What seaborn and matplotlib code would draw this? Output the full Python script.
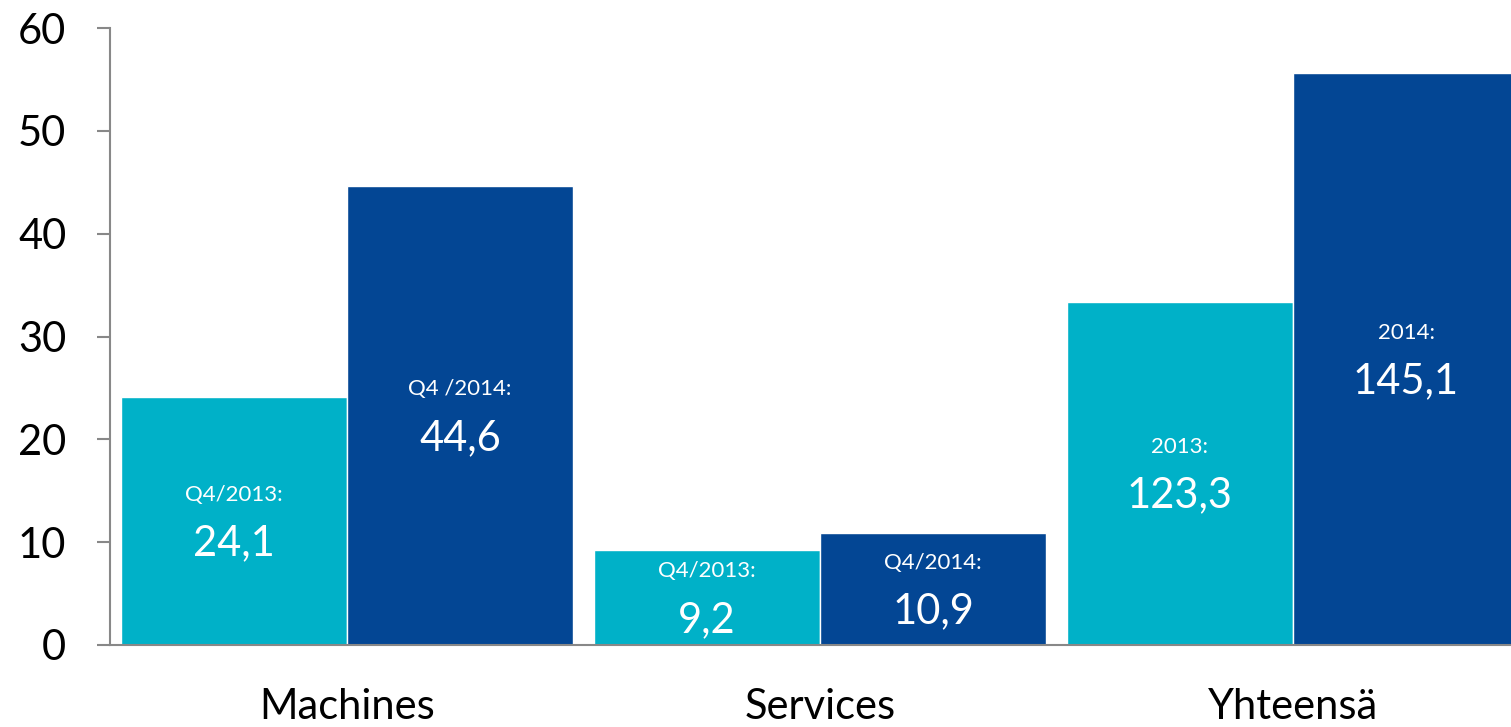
import matplotlib
matplotlib.use("Agg")
import matplotlib.pyplot as plt
import pandas as pd
import seaborn as sns

categories = ["Machines", "Services", "Yhteensä"]
series_names = ["2013", "2014"]
values_2013 = [24.1, 9.2, 33.4]
values_2014 = [44.6, 10.9, 55.6]
labels_2013 = ["Q4/2013:", "Q4/2013:", "2013:"]
labels_2014 = ["Q4 /2014:", "Q4/2014:", "2014:"]
texts_2013 = ["24,1", "9,2", "123,3"]
texts_2014 = ["44,6", "10,9", "145,1"]
colors = ["#00B1C8", "#034694"]

df = pd.DataFrame({
    "category": categories * 2,
    "series": [series_names[0]] * 3 + [series_names[1]] * 3,
    "value": values_2013 + values_2014,
})

sns.set_style("white")
plt.rcParams["font.family"] = ["Lato", "DejaVu Sans"]

fig = plt.figure(figsize=(15.11, 7.27), dpi=100)
ax = fig.add_axes([110 / 1511, 82 / 727, 1 - 110 / 1511, (645 - 28) / 727])

sns.barplot(data=df, x="category", y="value", hue="series", hue_order=series_names,
            palette=colors, width=0.956, saturation=1, legend=False, ax=ax)

top_labels = [labels_2013, labels_2014]
val_labels = [texts_2013, texts_2014]
for i, cont in enumerate(ax.containers):
    for j, bar in enumerate(cont):
        cx = bar.get_x() + bar.get_width() / 2
        cy = bar.get_height() / 2
        ax.annotate(top_labels[i][j], (cx, cy), xytext=(0, 19), textcoords="offset points",
                    ha="center", va="center", color="white", fontsize=16)
        ax.annotate(val_labels[i][j], (cx, cy), xytext=(0, -16), textcoords="offset points",
                    ha="center", va="center", color="white", fontsize=30)

ax.set_xlim(-0.501, -0.501 + 1401 / 473)
ax.set_ylim(0, 60)
ax.set_yticks([0, 10, 20, 30, 40, 50, 60])
ax.set_xlabel("")
ax.set_ylabel("")

ax.set_xticks([0, 1, 2])
ax.set_xticklabels(categories)
ax.set_xticks([-0.5, 0.5, 1.5], minor=True)
ax.tick_params(axis="x", which="major", length=0, labelsize=30, pad=31, labelcolor="black")
ax.tick_params(axis="x", which="minor", length=11, width=1.5, color="#888888", direction="out")
ax.tick_params(axis="y", length=9.5, width=1.5, color="#888888", labelsize=30, pad=22,
               left=True, labelcolor="black")

sns.despine(ax=ax, top=True, right=True)
for s in ["left", "bottom"]:
    ax.spines[s].set_color("#888888")
    ax.spines[s].set_linewidth(1.5)

fig.savefig("out.png", dpi=100)
